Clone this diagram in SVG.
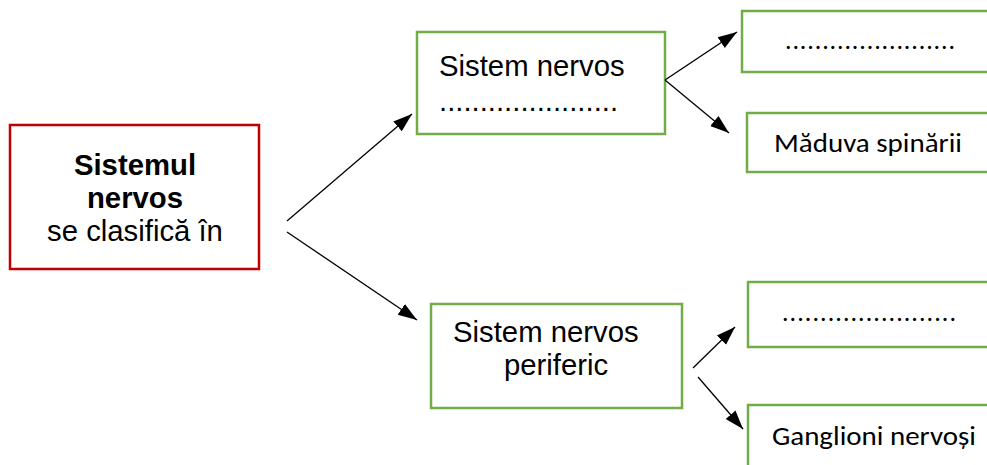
<svg xmlns="http://www.w3.org/2000/svg" width="987" height="465" viewBox="0 0 987 465">
<style>
.red{fill:#fff;stroke:#C00000;stroke-width:2.5}
.grn{fill:#fff;stroke:#70AD47;stroke-width:2.5}
.ar{font-family:"Liberation Sans",Arial,sans-serif;font-size:29.3px;fill:#000}
.cb{font-family:Carlito,Lato,"Open Sans",sans-serif;font-size:26px;fill:#000}
.b{font-weight:bold}
.ln{stroke:#000;stroke-width:1.3;fill:none;marker-end:url(#ah)}
</style>
<defs>
<marker id="ah" markerUnits="userSpaceOnUse" markerWidth="20" markerHeight="16" viewBox="0 0 20 16" refX="19" refY="8" orient="auto">
<path d="M0,1.5 L19,8 L0,14.5 z" fill="#000"/>
</marker>
</defs>
<g id="main">
<rect class="red" x="10" y="125" width="249" height="144"/>
<text class="ar b" x="135" y="175" text-anchor="middle">Sistemul</text>
<text class="ar b" x="135" y="208" text-anchor="middle">nervos</text>
<text class="ar" x="135" y="241" text-anchor="middle">se clasifică în</text>
</g>
<g id="snc">
<rect class="grn" x="417" y="32" width="248" height="102"/>
<text class="ar" x="439" y="76">Sistem nervos</text>
<text class="ar" x="439" y="111">......................</text>
</g>
<g id="snp">
<rect class="grn" x="431" y="304" width="251" height="104"/>
<text class="ar" x="453" y="342">Sistem nervos</text>
<text class="ar" x="504" y="375">periferic</text>
</g>
<g id="c1">
<rect class="grn" x="742" y="11" width="260" height="61"/>
<text class="cb" x="785" y="49" textLength="170" lengthAdjust="spacing">.......................</text>
</g>
<g id="c2">
<rect class="grn" x="747" y="113" width="260" height="59"/>
<text class="cb" x="774" y="152" textLength="188" lengthAdjust="spacingAndGlyphs">Măduva spinării</text>
</g>
<g id="p1">
<rect class="grn" x="748" y="282" width="260" height="65"/>
<text class="cb" x="782" y="321" textLength="174" lengthAdjust="spacing">.......................</text>
</g>
<g id="p2">
<rect class="grn" x="748" y="405" width="260" height="80"/>
<text class="cb" x="772" y="445" textLength="204" lengthAdjust="spacingAndGlyphs">Ganglioni nervoși</text>
</g>
<g id="connectors">
<line class="ln" x1="287" y1="221" x2="412" y2="114"/>
<line class="ln" x1="287" y1="232" x2="417" y2="320"/>
<line class="ln" x1="665" y1="80" x2="737" y2="32"/>
<line class="ln" x1="665" y1="80" x2="729" y2="133"/>
<line class="ln" x1="693" y1="368" x2="735" y2="327"/>
<line class="ln" x1="698" y1="377" x2="743" y2="429"/>
</g>
</svg>
